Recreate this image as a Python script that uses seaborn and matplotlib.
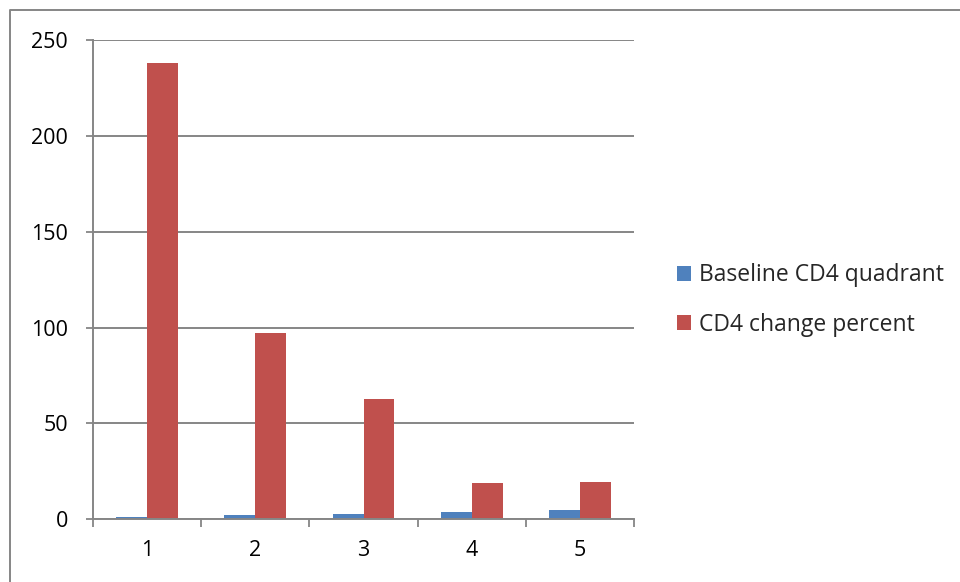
import matplotlib
matplotlib.use("Agg")
import matplotlib.pyplot as plt
from matplotlib.lines import Line2D
from matplotlib.patches import Patch
import seaborn as sns
import pandas as pd
import numpy as np

# Chart data
categories = ["1", "2", "3", "4", "5"]
baseline_cd4_quadrant = [1, 2, 3, 4, 5]
cd4_change_percent = [238, 97, 62.5, 18.8, 19.6]
series_names = ["Baseline CD4 quadrant", "CD4 change percent"]
y_ticks = [0, 50, 100, 150, 200, 250]

colors = ["#4F81BD", "#C0504D"]
grid_gray = "#868686"

df = pd.DataFrame({
    "category": categories * 2,
    "value": baseline_cd4_quadrant + cd4_change_percent,
    "series": [series_names[0]] * len(categories) + [series_names[1]] * len(categories),
})

sns.set_theme(style="white")
plt.rcParams["font.family"] = ["Open Sans", "DejaVu Sans"]

fig = plt.figure(figsize=(9.6, 5.82), dpi=100)
ax = fig.add_axes([93 / 960, 1 - 519.3 / 582, (634 - 93) / 960, (519.3 - 40) / 582])

sns.barplot(data=df, x="category", y="value", hue="series", order=categories,
            hue_order=series_names, palette=colors, width=0.572, gap=0,
            saturation=1, linewidth=0, legend=False, ax=ax)

ax.set_xlim(-0.5, len(categories) - 0.5)
ax.set_ylim(0, 250)
ax.set_yticks(y_ticks)
ax.set_yticklabels([str(t) for t in y_ticks], fontsize=15.5, color="black")
ax.set_xlabel("")
ax.set_ylabel("")

# category labels with tick marks between categories
ax.set_xticks(range(len(categories)))
ax.set_xticklabels(categories, fontsize=15.5, color="black")
ax.tick_params(axis="x", which="major", length=0, pad=15)
ax.set_xticks(np.arange(-0.5, len(categories)), minor=True)
ax.tick_params(axis="x", which="minor", direction="out", length=6, width=1.3,
               color=grid_gray, bottom=True)
ax.tick_params(axis="y", which="major", direction="out", length=5, width=1.3,
               color=grid_gray, left=True, pad=13)

ax.yaxis.grid(True, color=grid_gray, linewidth=1.4)
ax.set_axisbelow(True)
for side in ["top", "right"]:
    ax.spines[side].set_visible(False)
for side in ["left", "bottom"]:
    ax.spines[side].set_color(grid_gray)
    ax.spines[side].set_linewidth(1.4)
ax.spines["bottom"].set_zorder(3)

# legend on the right
handles = [Patch(facecolor=c, edgecolor="none") for c in colors]
fig.legend(handles, series_names, loc="center left",
           bbox_to_anchor=(677 / 960, 1 - 300 / 582), frameon=False,
           fontsize=16.5, handlelength=0.6, handleheight=0.6,
           handletextpad=0.35, labelspacing=1.1, borderaxespad=0,
           borderpad=0)

# chart area border (top and left edges)
fig.add_artist(Line2D([10 / 960, 10 / 960, 1.0], [0.0, 1 - 10 / 582, 1 - 10 / 582],
                      transform=fig.transFigure, color=grid_gray, linewidth=1.4))

fig.savefig("out.png", dpi=100)
